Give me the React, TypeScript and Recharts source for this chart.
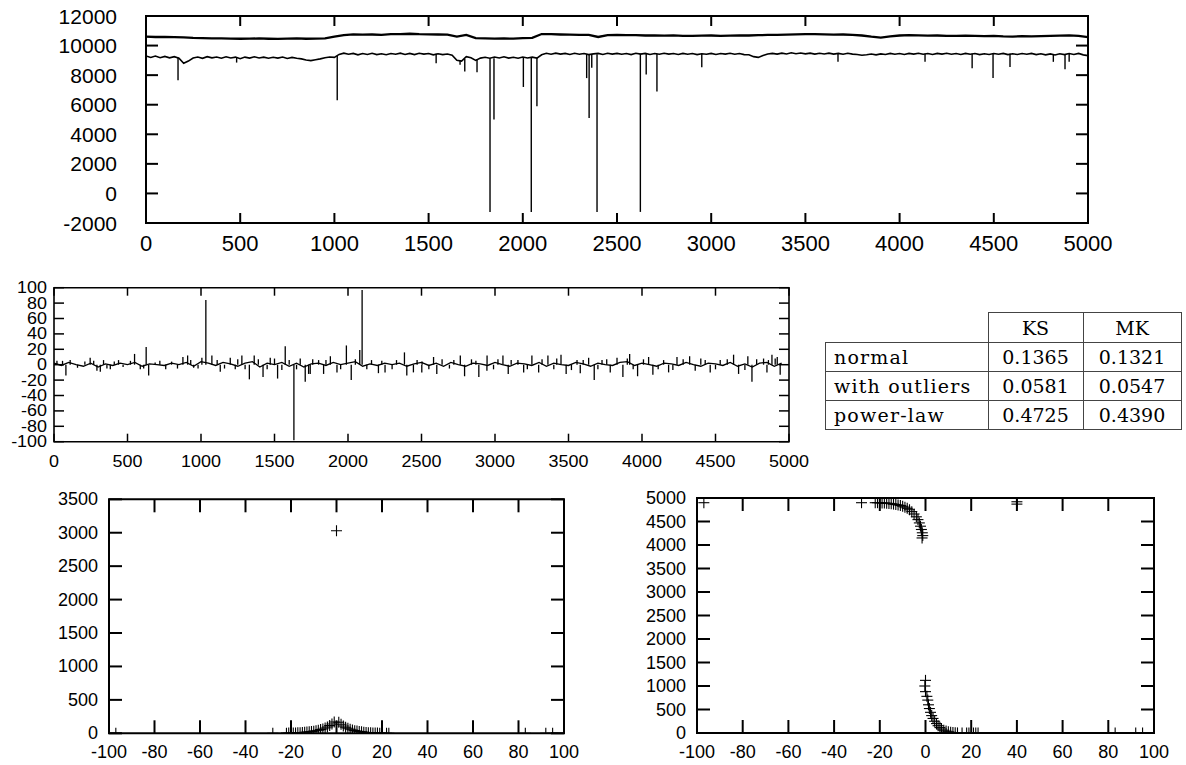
import React from 'react';
import { LineChart, Line, XAxis, YAxis, ReferenceArea, ReferenceLine, ScatterChart, Scatter } from 'recharts';

const SANS = '"Liberation Sans", Arial, Helvetica, sans-serif';
const SERIF = '"DejaVu Serif", "Liberation Serif", serif';

// ---------- Panel 1: two raw series ----------
const topXTicks = [0, 500, 1000, 1500, 2000, 2500, 3000, 3500, 4000, 4500, 5000];
const topYTicks = [-2000, 0, 2000, 4000, 6000, 8000, 10000, 12000];

const upperSeries: [number, number][] = [
  [0, 10600], [50, 10580], [100, 10590], [150, 10570], [200, 10550], [250, 10520], [300, 10510], [350, 10480],
  [400, 10490], [450, 10470], [500, 10460], [550, 10470], [600, 10480], [650, 10460], [700, 10450], [750, 10470],
  [800, 10480], [850, 10460], [900, 10470], [950, 10490], [1000, 10600], [1050, 10700], [1100, 10760], [1150, 10740],
  [1200, 10750], [1250, 10730], [1300, 10770], [1350, 10780], [1400, 10800], [1450, 10770], [1500, 10760], [1550, 10750],
  [1600, 10740], [1650, 10600], [1700, 10720], [1750, 10500], [1800, 10490], [1850, 10470], [1900, 10480], [1950, 10470],
  [2000, 10500], [2050, 10520], [2100, 10780], [2150, 10770], [2200, 10750], [2250, 10740], [2300, 10730], [2350, 10720],
  [2400, 10580], [2450, 10710], [2500, 10720], [2550, 10700], [2600, 10700], [2650, 10680], [2700, 10690], [2750, 10670],
  [2800, 10690], [2850, 10660], [2900, 10650], [2950, 10670], [3000, 10680], [3050, 10660], [3100, 10670], [3150, 10690],
  [3200, 10680], [3250, 10700], [3300, 10720], [3350, 10730], [3400, 10740], [3450, 10760], [3500, 10780], [3550, 10770],
  [3600, 10760], [3650, 10740], [3700, 10750], [3750, 10720], [3800, 10680], [3850, 10600], [3900, 10540], [3950, 10620],
  [4000, 10680], [4050, 10700], [4100, 10690], [4150, 10670], [4200, 10680], [4250, 10660], [4300, 10650], [4350, 10670],
  [4400, 10660], [4450, 10640], [4500, 10650], [4550, 10620], [4600, 10610], [4650, 10630], [4700, 10620], [4750, 10640],
  [4800, 10650], [4850, 10670], [4900, 10690], [4950, 10650], [5000, 10570],
];

const lowerSeries: [number, number][] = [
  [0, 9300], [25, 9200], [50, 9290], [75, 9180], [100, 9270], [125, 9170], [150, 9250], [175, 9150],
  [200, 8800], [225, 8950], [250, 9160], [275, 9230], [300, 9140], [325, 9250], [350, 9170], [375, 9230],
  [400, 9140], [425, 9240], [450, 9160], [475, 9220], [500, 9110], [525, 9220], [550, 9150], [575, 9240],
  [600, 9160], [625, 9220], [650, 9140], [675, 9210], [700, 9150], [725, 9230], [750, 9130], [775, 9200],
  [800, 9140], [825, 9100], [850, 9020], [875, 8980], [900, 9040], [925, 9100], [950, 9180], [975, 9230],
  [1000, 9200], [1025, 9400], [1050, 9490], [1075, 9410], [1100, 9470], [1125, 9370], [1150, 9460], [1175, 9400],
  [1200, 9480], [1225, 9390], [1250, 9450], [1275, 9380], [1300, 9460], [1325, 9410], [1350, 9490], [1375, 9400],
  [1400, 9470], [1425, 9390], [1450, 9480], [1475, 9420], [1500, 9460], [1525, 9370], [1550, 9450], [1575, 9390],
  [1600, 9430], [1625, 9350], [1650, 9000], [1675, 8950], [1700, 9250], [1725, 9170], [1750, 9000], [1775, 9150],
  [1800, 9210], [1825, 9140], [1850, 9230], [1875, 9160], [1900, 9240], [1925, 9150], [1950, 9210], [1975, 9140],
  [2000, 9230], [2025, 9160], [2050, 9220], [2075, 9150], [2100, 9380], [2125, 9480], [2150, 9410], [2175, 9490],
  [2200, 9420], [2225, 9470], [2250, 9400], [2275, 9480], [2300, 9410], [2325, 9460], [2350, 9390], [2375, 9440],
  [2400, 9470], [2425, 9400], [2450, 9480], [2475, 9420], [2500, 9470], [2525, 9410], [2550, 9460], [2575, 9390],
  [2600, 9480], [2625, 9420], [2650, 9470], [2675, 9400], [2700, 9460], [2725, 9410], [2750, 9480], [2775, 9420],
  [2800, 9460], [2825, 9400], [2850, 9470], [2875, 9410], [2900, 9460], [2925, 9390], [2950, 9450], [2975, 9410],
  [3000, 9470], [3025, 9400], [3050, 9460], [3075, 9420], [3100, 9480], [3125, 9410], [3150, 9460], [3175, 9390],
  [3200, 9380], [3225, 9250], [3250, 9200], [3275, 9330], [3300, 9430], [3325, 9470], [3350, 9420], [3375, 9490],
  [3400, 9430], [3425, 9510], [3450, 9450], [3475, 9500], [3500, 9440], [3525, 9490], [3550, 9420], [3575, 9480],
  [3600, 9430], [3625, 9490], [3650, 9420], [3675, 9470], [3700, 9410], [3725, 9480], [3750, 9420], [3775, 9400],
  [3800, 9350], [3825, 9380], [3850, 9430], [3875, 9370], [3900, 9440], [3925, 9400], [3950, 9470], [3975, 9410],
  [4000, 9460], [4025, 9400], [4050, 9470], [4075, 9420], [4100, 9480], [4125, 9410], [4150, 9460], [4175, 9400],
  [4200, 9470], [4225, 9420], [4250, 9480], [4275, 9410], [4300, 9460], [4325, 9400], [4350, 9470], [4375, 9410],
  [4400, 9460], [4425, 9390], [4450, 9450], [4475, 9400], [4500, 9460], [4525, 9410], [4550, 9470], [4575, 9390],
  [4600, 9450], [4625, 9400], [4650, 9460], [4675, 9410], [4700, 9470], [4725, 9390], [4750, 9450], [4775, 9370],
  [4800, 9440], [4825, 9360], [4850, 9450], [4875, 9390], [4900, 9460], [4925, 9400], [4950, 9470], [4975, 9370],
  [5000, 9320],
];

// [x, level at spike start, spike end]
const lowerSpikes: [number, number, number][] = [
  [170, 9200, 7650], [481, 9200, 8850], [1015, 9300, 6300], [1540, 9450, 8800], [1667, 9000, 8700],
  [1692, 9100, 8250], [1757, 9100, 8200], [1826, 9150, -1250], [1847, 9150, 5000], [2003, 9200, 7200],
  [2045, 9200, -1250], [2075, 9200, 5900], [2339, 9420, 7800], [2352, 9420, 5100], [2366, 9420, 8500],
  [2394, 9420, -1250], [2624, 9450, -1250], [2655, 9450, 8050], [2712, 9450, 6900], [2950, 9440, 8530],
  [3673, 9460, 8900], [4135, 9450, 8900], [4385, 9450, 8470], [4496, 9450, 7800], [4586, 9450, 8550],
  [4816, 9430, 8900], [4878, 9420, 8400], [4900, 9440, 8900],
];

// ---------- Panel 2: differences ----------
const diffXTicks = [0, 500, 1000, 1500, 2000, 2500, 3000, 3500, 4000, 4500, 5000];
const diffYTicks = [-100, -80, -60, -40, -20, 0, 20, 40, 60, 80, 100];

const diffBase: [number, number][] = [
  [0, 2], [50, -1], [100, 3], [150, 0], [200, -2], [250, 2], [300, -3], [350, 1], [400, -1], [450, 2],
  [500, 0], [550, 3], [600, -2], [650, 1], [700, 0], [750, -1], [800, 2], [850, 0], [900, 3], [950, -2],
  [1000, 4], [1050, 2], [1100, -1], [1150, 3], [1200, 1], [1250, -2], [1300, 2], [1350, 4], [1400, -3], [1450, 2],
  [1500, 0], [1550, 3], [1600, -2], [1650, 2], [1700, -3], [1750, 1], [1800, 2], [1850, -1], [1900, 3], [1950, 0],
  [2000, 2], [2050, 4], [2100, -2], [2150, 1], [2200, -1], [2250, 2], [2300, 0], [2350, 2], [2400, -2], [2450, 1],
  [2500, 3], [2550, -1], [2600, 2], [2650, -2], [2700, 3], [2750, 0], [2800, -2], [2850, 2], [2900, 1], [2950, -1],
  [3000, 3], [3050, 0], [3100, -2], [3150, 2], [3200, 1], [3250, -1], [3300, 3], [3350, -2], [3400, 2], [3450, 0],
  [3500, -1], [3550, 3], [3600, 1], [3650, -2], [3700, 2], [3750, 0], [3800, -1], [3850, 3], [3900, 4], [3950, -1],
  [4000, 2], [4050, 0], [4100, -2], [4150, 2], [4200, 1], [4250, -1], [4300, 3], [4350, 0], [4400, -2], [4450, 2],
  [4500, 1], [4550, -1], [4600, 3], [4650, -2], [4700, 1], [4750, -3], [4800, 2], [4850, 3], [4900, -2], [4950, 2],
];

const diffSpikes: [number, number][] = [
  [20, 5], [58, 5], [81, -14], [110, 6], [246, 9], [292, -8], [315, -9], [337, 6], [383, -6], [439, 6],
  [548, 14], [587, -6], [627, 23], [644, -14], [688, 3], [877, 10], [909, 12], [950, -4], [1006, 9], [1033, 84],
  [1074, 12], [1131, -9], [1199, 9], [1233, -6], [1278, 12], [1329, -19], [1362, 12], [1422, -16], [1471, 9], [1521, -18],
  [1573, 24], [1632, -98], [1675, 8], [1709, -22], [1732, -12], [1743, -12], [1800, 6], [1834, -12], [1880, 11], [1925, -10],
  [1989, 25], [2022, -20], [2080, 19], [2096, 97], [2128, -6], [2207, -11], [2252, -10], [2384, 16], [2400, -14], [2445, -10],
  [2502, -10], [2504, 4], [2582, 10], [2604, -12], [2764, 12], [2793, -15], [2890, -16], [2945, -8], [2946, 12], [3054, 12],
  [3090, -12], [3156, 6], [3195, -10], [3251, 12], [3297, -10], [3360, 12], [3449, 13], [3484, -12], [3558, 6], [3580, -11],
  [3637, 9], [3675, -20], [3728, 6], [3784, -10], [3830, 9], [3870, -16], [3916, 14], [3970, -15], [4045, 10], [4074, -13],
  [4147, 6], [4181, -10], [4238, 10], [4324, 11], [4362, -8], [4430, 6], [4464, -10], [4532, 6], [4623, 13], [4657, -12],
  [4720, 11], [4748, -22], [4827, 8], [4850, -10], [4884, 13], [4906, 8], [4940, -13],
];

const diffSmallSpikes: [number, number][] = [
  [160, -4], [210, 4], [270, 5], [360, -5], [410, 4], [470, -3], [520, 5], [610, -5], [720, 5], [760, -6],
  [800, 4], [840, -5], [930, 6], [980, -5], [1110, 6], [1160, -5], [1250, 7], [1300, -6], [1390, 7], [1450, -6],
  [1500, 8], [1550, -7], [1600, 6], [1650, -6], [1760, 7], [1850, 6], [1950, -6], [2050, 7], [2160, 6], [2230, 5],
  [2300, -6], [2330, 6], [2470, 6], [2550, -6], [2640, 7], [2690, -5], [2720, 6], [2840, 7], [2870, 5], [2990, -6],
  [3020, 7], [3110, 6], [3220, -6], [3320, 7], [3400, -6], [3420, 8], [3520, -7], [3600, 6], [3700, -6], [3760, 7],
  [3900, 8], [3940, -6], [4010, 7], [4110, -6], [4210, -7], [4280, 7], [4400, 8], [4500, -6], [4580, 7], [4700, -7],
  [4780, 7], [4860, 6], [4920, 10],
];

// ---------- Table ----------
const tableColumns = ['KS', 'MK'];
const tableRows = ['normal', 'with outliers', 'power-law'];
const ksValues = ['0.1365', '0.0581', '0.4725'];
const mkValues = ['0.1321', '0.0547', '0.4390'];

// ---------- Panel 3: histogram of differences ----------
const histXTicks = [-100, -80, -60, -40, -20, 0, 20, 40, 60, 80, 100];
const histYTicks = [0, 500, 1000, 1500, 2000, 2500, 3000, 3500];
const histPoints: [number, number][] = [
  [-97, 1], [-28, 1], [-22, 2], [-21, 3], [-20, 4], [-19, 5], [-18, 6], [-17, 8], [-16, 10], [-15, 12],
  [-14, 15], [-13, 18], [-12, 22], [-11, 27], [-10, 32], [-9, 38], [-8, 45], [-7, 55], [-6, 65], [-5, 80],
  [-4, 95], [-3, 115], [-2, 140], [-1, 170], [0, 3030], [1, 165], [2, 135], [3, 110], [4, 90], [5, 75],
  [6, 60], [7, 50], [8, 40], [9, 33], [10, 27], [11, 22], [12, 17], [13, 13], [14, 10], [15, 8],
  [16, 6], [17, 5], [18, 3], [19, 2], [20, 2], [22, 1], [23, 1], [83, 1], [92, 1], [95, 1],
];

// ---------- Panel 4: ranked differences ----------
const rankXTicks = [-100, -80, -60, -40, -20, 0, 20, 40, 60, 80, 100];
const rankYTicks = [0, 500, 1000, 1500, 2000, 2500, 3000, 3500, 4000, 4500, 5000];
const rankUpper: [number, number][] = [
  [-97, 4900], [-28, 4900], [-22, 4900], [-21, 4900], [-20, 4898], [-19, 4895], [-18, 4893], [-17, 4890],
  [-16, 4885], [-15, 4878], [-14, 4870], [-13, 4862], [-12, 4852], [-11, 4840], [-10, 4825], [-9, 4805],
  [-8, 4780], [-7, 4750], [-6, 4710], [-5, 4660], [-4, 4600], [-3.3, 4540], [-2.7, 4470], [-2.2, 4400],
  [-1.8, 4330], [-1.4, 4260], [-1.2, 4200], [-1.5, 4150], [40, 4920], [40, 4870],
];
const rankLower: [number, number][] = [
  [0, 1120], [-0.3, 1000], [0, 880], [0.6, 780], [1, 700], [1.3, 600], [1.7, 520], [2.2, 440],
  [2.7, 370], [3.3, 310], [4, 250], [4.8, 200], [5.5, 155], [6.3, 115], [7, 85], [8, 60],
  [9, 40], [10, 25], [11, 15], [12, 8], [13, 4], [14, 2], [16, 1], [18, 0], [19, 0], [21, 0],
  [22, 0], [23, 0], [83, 0], [92, 0], [95, 0],
];

// ---------- helpers ----------
type TickOpts = { fontSize: number; gap: number; len: number; span: number; sw: number; stretch?: number };

const glyphWidth = (s: string) => s.split('').reduce((w, c) => w + (c === '-' ? 0.333 : 0.556), 0);

const stretchProps = (label: string, o: TickOpts) =>
  o.stretch ? { textLength: glyphWidth(label) * o.fontSize * o.stretch, lengthAdjust: 'spacingAndGlyphs' as const } : {};

const makeXTick = (o: TickOpts) => (p: any) => {
  const ax = p.y - o.gap;
  const label = String(p.payload.value);
  return (
    <g>
      <line x1={p.x} x2={p.x} y1={ax} y2={ax - o.len} stroke="#000" strokeWidth={o.sw} />
      <line x1={p.x} x2={p.x} y1={ax - o.span} y2={ax - o.span + o.len} stroke="#000" strokeWidth={o.sw} />
      <text x={p.x} y={p.y} textAnchor="middle" dominantBaseline="central" fontSize={o.fontSize} fontFamily={SANS} fill="#000"
        {...stretchProps(label, o)}>
        {label}
      </text>
    </g>
  );
};

const makeYTick = (o: TickOpts) => (p: any) => {
  const ax = p.x + o.gap;
  const label = String(p.payload.value);
  return (
    <g>
      <line x1={ax} x2={ax + o.len} y1={p.y} y2={p.y} stroke="#000" strokeWidth={o.sw} />
      <line x1={ax + o.span} x2={ax + o.span - o.len} y1={p.y} y2={p.y} stroke="#000" strokeWidth={o.sw} />
      <text x={p.x} y={p.y} textAnchor="end" dominantBaseline="central" fontSize={o.fontSize} fontFamily={SANS} fill="#000"
        {...stretchProps(label, o)}>
        {label}
      </text>
    </g>
  );
};

const PlusShape = (props: any) => {
  const { cx, cy } = props;
  if (cx == null || cy == null) return <g />;
  const s = 5.5;
  return (
    <g>
      <line x1={cx - s} x2={cx + s} y1={cy} y2={cy} stroke="#000" strokeWidth={1.1} />
      <line x1={cx} x2={cx} y1={cy - s} y2={cy + s} stroke="#000" strokeWidth={1.1} />
    </g>
  );
};

const toXY = (arr: [number, number][]) => arr.map(([x, y]) => ({ x, y }));

export default function App() {
  const p1 = { left: 146, top: 16, right: 1088, bottom: 223 };
  const p2 = { left: 54, top: 287.7, right: 789, bottom: 441.7 };
  const p3 = { left: 109, top: 499.3, right: 564, bottom: 733.3 };
  const p4 = { left: 697, top: 498, right: 1154, bottom: 733 };

  return (
    <div style={{ position: 'absolute', left: 0, top: 0, width: 1186, height: 765, background: '#fff', overflow: 'hidden' }}>
      {/* Panel 1 */}
      <div style={{ position: 'absolute', left: 0, top: 0 }}>
        <LineChart width={1186} height={270} margin={{ left: p1.left - 100, top: p1.top, right: 1186 - p1.right, bottom: 270 - p1.bottom - 40 }}>
          <XAxis xAxisId={0} type="number" dataKey="x" domain={[0, 5000]} ticks={topXTicks} interval={0} allowDataOverflow
            height={40} axisLine={false} tickLine={false} tickSize={0} tickMargin={20}
            tick={makeXTick({ fontSize: 22, gap: 20, len: 10, span: p1.bottom - p1.top, sw: 2 })} />
          <YAxis yAxisId={0} type="number" domain={[-2000, 12000]} ticks={topYTicks} interval={0} allowDataOverflow
            width={100} axisLine={false} tickLine={false} tickSize={0} tickMargin={29}
            tick={makeYTick({ fontSize: 21, gap: 29, len: 12, span: p1.right - p1.left, sw: 2 })} />
          {lowerSpikes.map(([x, a, b], i) => (
            <ReferenceLine key={'ls' + i} segment={[{ x, y: a }, { x, y: b }]} stroke="#000" strokeWidth={1.4} />
          ))}
          <Line data={toXY(lowerSeries)} dataKey="y" type="linear" stroke="#000" strokeWidth={1.6} dot={false} activeDot={false} isAnimationActive={false} />
          <Line data={toXY(upperSeries)} dataKey="y" type="linear" stroke="#000" strokeWidth={2.3} dot={false} activeDot={false} isAnimationActive={false} />
          <ReferenceArea x1={0} x2={5000} y1={-2000} y2={12000} fill="none" fillOpacity={0} stroke="#000" strokeWidth={2} />
        </LineChart>
      </div>

      {/* Panel 2 */}
      <div style={{ position: 'absolute', left: 0, top: 270 }}>
        <LineChart width={820} height={200} margin={{ left: p2.left - 50, top: p2.top - 270, right: 820 - p2.right, bottom: 200 - (p2.bottom - 270) - 25 }}>
          <XAxis xAxisId={0} type="number" dataKey="x" domain={[0, 5000]} ticks={diffXTicks} interval={0} allowDataOverflow
            height={25} axisLine={false} tickLine={false} tickSize={0} tickMargin={20}
            tick={makeXTick({ fontSize: 16, gap: 20, len: 8, span: p2.bottom - p2.top, sw: 1.5, stretch: 1.12 })} />
          <YAxis yAxisId={0} type="number" domain={[-100, 100]} ticks={diffYTicks} interval={0} allowDataOverflow
            width={50} axisLine={false} tickLine={false} tickSize={0} tickMargin={7}
            tick={makeYTick({ fontSize: 16, gap: 7, len: 10, span: p2.right - p2.left, sw: 1.5, stretch: 1.12 })} />
          {diffSmallSpikes.map(([x, v], i) => (
            <ReferenceLine key={'dss' + i} segment={[{ x, y: 0 }, { x, y: v }]} stroke="#000" strokeWidth={1.3} />
          ))}
          {diffSpikes.map(([x, v], i) => (
            <ReferenceLine key={'ds' + i} segment={[{ x, y: 0 }, { x, y: v }]} stroke="#000" strokeWidth={1.3} />
          ))}
          <Line data={toXY(diffBase)} dataKey="y" type="linear" stroke="#000" strokeWidth={1.3} dot={false} activeDot={false} isAnimationActive={false} />
          <ReferenceArea x1={0} x2={5000} y1={-100} y2={100} fill="none" fillOpacity={0} stroke="#000" strokeWidth={1.6} />
        </LineChart>
      </div>

      {/* Table */}
      <table style={{ position: 'absolute', left: 825, top: 312, borderCollapse: 'collapse', fontFamily: SERIF, fontSize: 19, color: '#000' }}>
        <tbody>
          <tr style={{ height: 30 }}>
            <td style={{ width: 162, padding: 0, border: 'none' }}></td>
            {tableColumns.map((c) => (
              <td key={c} style={{ width: c === 'KS' ? 94 : 97, padding: 0, textAlign: 'center', border: '1px solid #444' }}>{c}</td>
            ))}
          </tr>
          {tableRows.map((r, i) => (
            <tr key={r} style={{ height: 29 }}>
              <td style={{ padding: '0 0 0 8px', textAlign: 'left', border: '1px solid #444', letterSpacing: 1.2 }}>{r}</td>
              <td style={{ padding: 0, textAlign: 'center', border: '1px solid #444' }}>{ksValues[i]}</td>
              <td style={{ padding: 0, textAlign: 'center', border: '1px solid #444' }}>{mkValues[i]}</td>
            </tr>
          ))}
        </tbody>
      </table>

      {/* Panel 3 */}
      <div style={{ position: 'absolute', left: 0, top: 480 }}>
        <ScatterChart width={600} height={285} margin={{ left: p3.left - 70, top: p3.top - 480, right: 600 - p3.right, bottom: 285 - (p3.bottom - 480) - 28 }}>
          <XAxis xAxisId={0} type="number" dataKey="x" domain={[-100, 100]} ticks={histXTicks} interval={0} allowDataOverflow
            height={28} axisLine={false} tickLine={false} tickSize={0} tickMargin={19}
            tick={makeXTick({ fontSize: 18, gap: 19, len: 13, span: p3.bottom - p3.top, sw: 2 })} />
          <YAxis yAxisId={0} type="number" dataKey="y" domain={[0, 3500]} ticks={histYTicks} interval={0} allowDataOverflow
            width={70} axisLine={false} tickLine={false} tickSize={0} tickMargin={11}
            tick={makeYTick({ fontSize: 18, gap: 11, len: 13, span: p3.right - p3.left, sw: 2 })} />
          <ReferenceArea x1={-100} x2={100} y1={0} y2={3500} fill="none" fillOpacity={0} stroke="#000" strokeWidth={2} />
          <Scatter data={toXY(histPoints)} shape={PlusShape} isAnimationActive={false} />
        </ScatterChart>
      </div>

      {/* Panel 4 */}
      <div style={{ position: 'absolute', left: 600, top: 480 }}>
        <ScatterChart width={586} height={285} margin={{ left: p4.left - 600 - 70, top: p4.top - 480, right: 586 - (p4.right - 600), bottom: 285 - (p4.bottom - 480) - 28 }}>
          <XAxis xAxisId={0} type="number" dataKey="x" domain={[-100, 100]} ticks={rankXTicks} interval={0} allowDataOverflow
            height={28} axisLine={false} tickLine={false} tickSize={0} tickMargin={19}
            tick={makeXTick({ fontSize: 18, gap: 19, len: 13, span: p4.bottom - p4.top, sw: 2 })} />
          <YAxis yAxisId={0} type="number" dataKey="y" domain={[0, 5000]} ticks={rankYTicks} interval={0} allowDataOverflow
            width={70} axisLine={false} tickLine={false} tickSize={0} tickMargin={11}
            tick={makeYTick({ fontSize: 18, gap: 11, len: 13, span: p4.right - p4.left, sw: 2 })} />
          <ReferenceArea x1={-100} x2={100} y1={0} y2={5000} fill="none" fillOpacity={0} stroke="#000" strokeWidth={2} />
          <Scatter data={toXY(rankUpper)} shape={PlusShape} isAnimationActive={false} />
          <Scatter data={toXY(rankLower)} shape={PlusShape} isAnimationActive={false} />
        </ScatterChart>
      </div>
    </div>
  );
}
